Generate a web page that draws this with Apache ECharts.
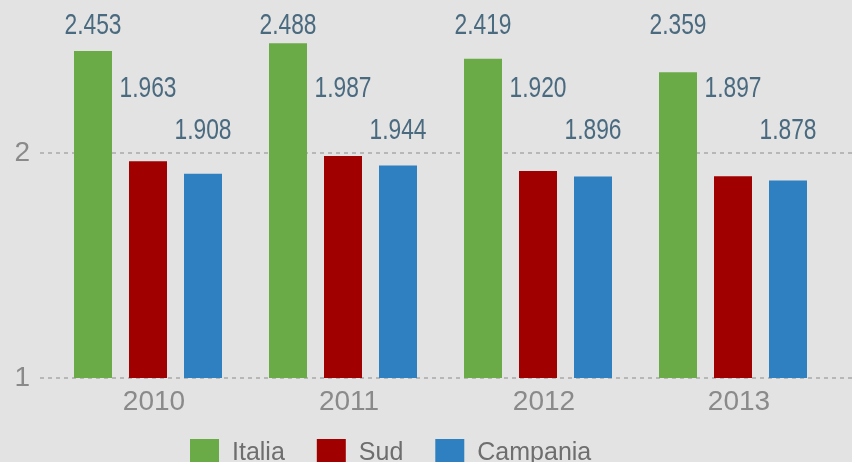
<!DOCTYPE html>
<html>
<head>
<meta charset="utf-8">
<script src="https://cdn.jsdelivr.net/npm/echarts@6/dist/echarts.min.js"></script>
<style>
  html, body { margin: 0; padding: 0; background: #e3e3e3; }
  #chart { width: 852px; height: 462px; }
</style>
</head>
<body>
<div id="chart"></div>
<script>
// Years on the category axis
const years = ['2010', '2011', '2012', '2013'];
// Series values
const italia = [2.453, 2.488, 2.419, 2.359];
const sud = [1.963, 1.987, 1.920, 1.897];
const campania = [1.908, 1.944, 1.896, 1.878];
// Value-axis range and step
const yMin = 1;
const yMax = 2.5;
const yStep = 1;

// Bar geometry shared by the bars and their value labels
const BAR_W = 38;
const BAR_GAP = 17;
const SLOT = BAR_W + BAR_GAP;

const labelFont = "30px 'Liberation Sans', Arial, sans-serif";
const labelColor = '#4a6a7f';

// Value labels: narrow digits on a fixed row per series, centred over each bar
function valueLabels(values, slot, rowY) {
  return {
    type: 'custom',
    xAxisIndex: 0,
    yAxisIndex: 0,
    clip: false,
    silent: true,
    z: 5,
    data: values.map((v, i) => [i, v]),
    encode: { x: 0, y: 1 },
    renderItem: (params, api) => {
      const c = api.coord([api.value(0), api.value(1)]);
      return {
        type: 'text',
        x: c[0] + slot * SLOT,
        y: rowY,
        scaleX: 0.76,
        style: {
          text: api.value(1).toFixed(3),
          font: labelFont,
          fill: labelColor,
          align: 'center',
          verticalAlign: 'middle'
        }
      };
    }
  };
}

const chart = echarts.init(document.getElementById('chart'));
chart.setOption({
  backgroundColor: '#e3e3e3',
  animation: false,
  legend: {
    data: ['Italia', 'Sud', 'Campania'],
    left: 185,
    top: 434,
    icon: 'rect',
    itemWidth: 29,
    itemHeight: 28,
    itemGap: 32,
    textStyle: {
      fontFamily: 'Liberation Sans, Arial, sans-serif',
      fontSize: 25,
      color: '#6e6e6e',
      padding: [0, 0, 0, 8]
    }
  },
  grid: [
    { left: 50.5, right: 21.5, top: 40.5, bottom: 84 },
    { left: 40, right: 0, top: 40.5, bottom: 84 }
  ],
  xAxis: [
    {
      type: 'category',
      gridIndex: 0,
      data: years,
      axisLine: { show: false },
      axisTick: { show: false },
      axisLabel: {
        fontFamily: 'Liberation Sans, Arial, sans-serif',
        fontSize: 28,
        color: '#8a8a8a',
        margin: 10,
        padding: [0, 0, 0, 12]
      }
    },
    { type: 'category', gridIndex: 1, data: years, show: false }
  ],
  yAxis: [
    { type: 'value', gridIndex: 0, min: yMin, max: yMax, show: false },
    {
      type: 'value',
      gridIndex: 1,
      min: yMin,
      max: yMax,
      interval: yStep,
      axisLine: { show: false },
      axisTick: { show: false },
      axisLabel: {
        fontFamily: 'Liberation Sans, Arial, sans-serif',
        fontSize: 28,
        color: '#8a8a8a',
        margin: 10,
        showMaxLabel: false
      },
      splitLine: {
        showMaxLine: false,
        lineStyle: { color: '#a9a9a9', type: [4, 4], width: 1.5 }
      }
    }
  ],
  series: [
    {
      name: 'Italia', type: 'bar', data: italia,
      barWidth: BAR_W, barGap: (BAR_GAP / BAR_W * 100) + '%',
      itemStyle: { color: '#6aab47' }
    },
    {
      name: 'Sud', type: 'bar', data: sud,
      barWidth: BAR_W, barGap: (BAR_GAP / BAR_W * 100) + '%',
      itemStyle: { color: '#a10000' }
    },
    {
      name: 'Campania', type: 'bar', data: campania,
      barWidth: BAR_W, barGap: (BAR_GAP / BAR_W * 100) + '%',
      itemStyle: { color: '#2f80c0' }
    },
    valueLabels(italia, -1, 26),
    valueLabels(sud, 0, 89),
    valueLabels(campania, 1, 131)
  ]
});
</script>
</body>
</html>
